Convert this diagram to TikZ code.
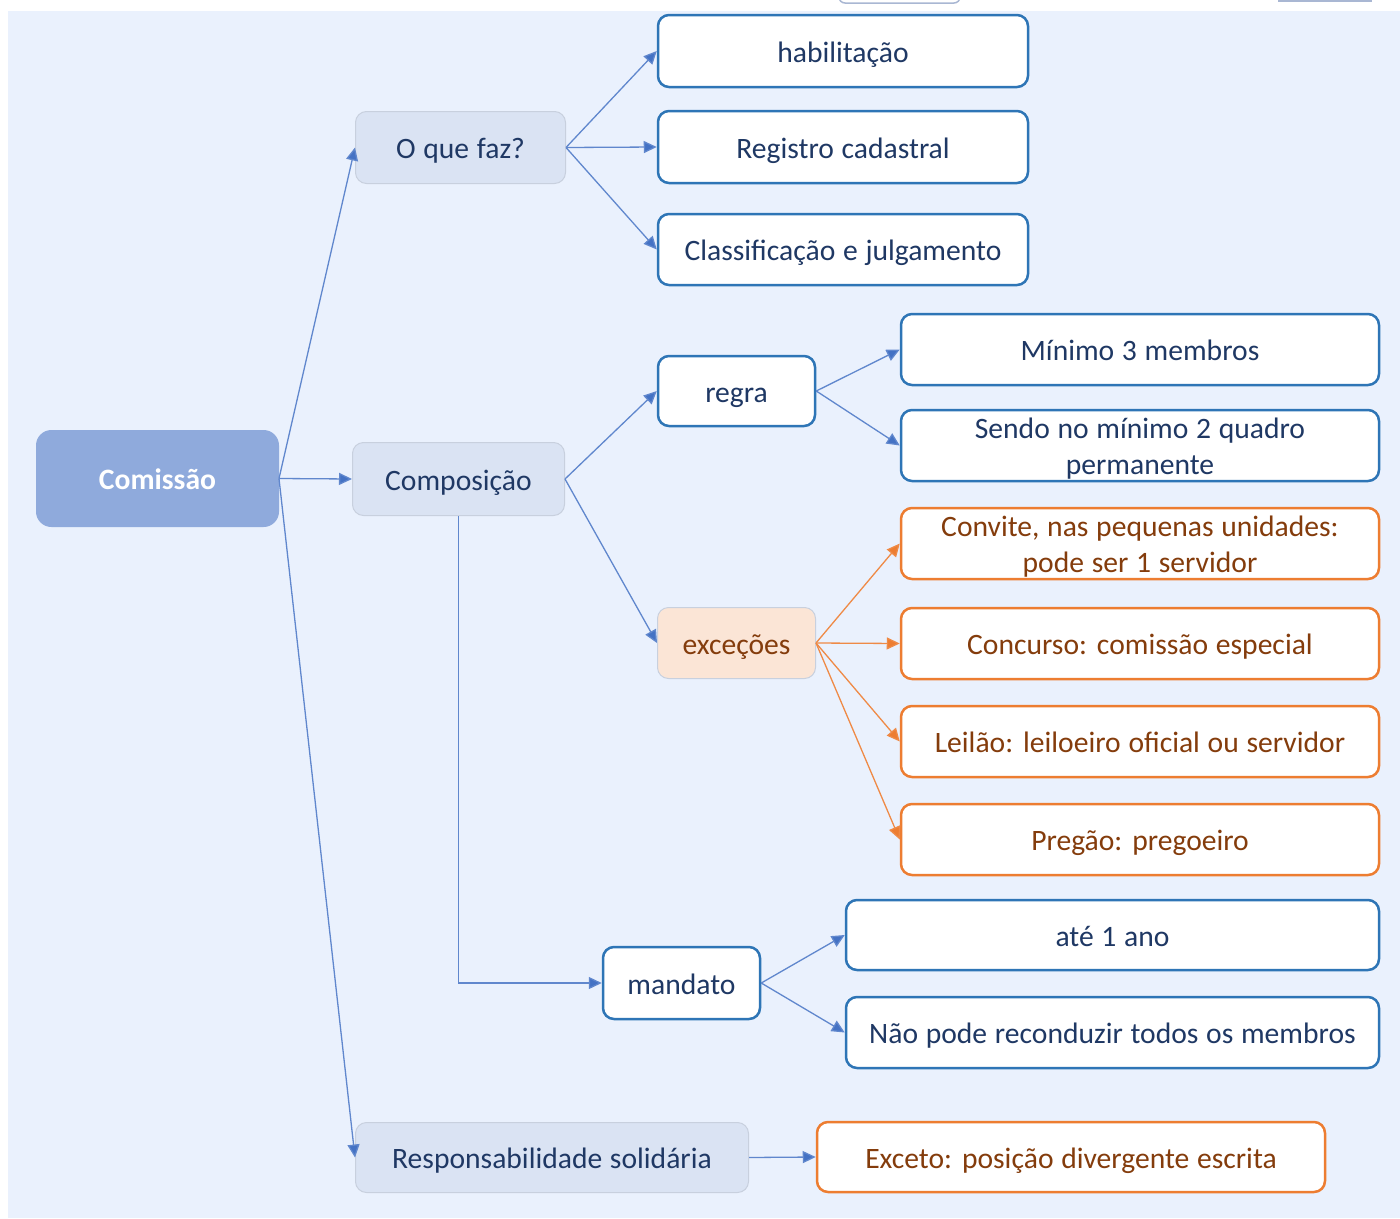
\documentclass[tikz,border=0pt]{standalone}
\usepackage{fontspec}
\setmainfont{Carlito}[WordSpace=1.15]
\usetikzlibrary{arrows.meta}
\definecolor{bgc}{HTML}{EAF1FD}
\definecolor{navy}{HTML}{1F3864}
\definecolor{brownt}{HTML}{843C0C}
\definecolor{grayf}{HTML}{DAE3F3}
\definecolor{grayd}{HTML}{C8D0DE}
\definecolor{rootf}{HTML}{8FAADC}
\definecolor{blueb}{HTML}{2E75B6}
\definecolor{orangeb}{HTML}{ED7D31}
\definecolor{peachf}{HTML}{FBE5D6}
\definecolor{linec}{HTML}{4472C4}
\definecolor{fragc}{HTML}{A9B7D3}
\newcommand{\lowertxt}[1]{\raisebox{-3pt}[\height][\depth]{#1}}
\begin{document}
\begin{tikzpicture}[x=1pt,y=-1pt,
  base/.style={rectangle, rounded corners=11pt, align=center, inner sep=0pt,
    font=\fontsize{29.6}{36}\selectfont, text=navy, text height=25pt, text depth=3pt},
  twoline/.style={text height=, text depth=},
  sz/.style 2 args={minimum width=#1, minimum height=#2},
  rootbox/.style={base, rounded corners=15pt, fill=rootf, draw=rootf, line width=1pt,
    text=white, font=\fontsize{29.6}{36}\selectfont\bfseries},
  graybox/.style={base, fill=grayf, draw=grayd, line width=1pt},
  peachbox/.style={base, fill=peachf, draw=grayd, line width=1pt, text=brownt},
  bluebox/.style={base, fill=white, draw=blueb, line width=2.5pt},
  orangebox/.style={base, fill=white, draw=orangeb, line width=2.5pt, text=brownt},
  conn/.style={draw=linec!85, line width=1.3pt, -{Triangle[length=13pt,width=12pt,fill=linec]}},
  oconn/.style={draw=orangeb!90, line width=1.3pt, -{Triangle[length=13pt,width=12pt,fill=orangeb]}}
]
\useasboundingbox (0,0) rectangle (1400,1218);
\fill[bgc] (8,11) rectangle (1400,1218);
% stray fragments at the top edge
\draw[fragc, line width=1.5pt, fill=white, rounded corners=6pt] (839,-20) rectangle (960,3);
\draw[fragc, line width=2pt] (1278,0.5) -- (1372,0.5);

% root and first level
\node[rootbox, sz={242pt}{96pt}] (com) at (157.5,478.5) {Comissão};
\node[graybox, sz={210pt}{72pt}] (oque) at (460.5,147.5) {O que faz?};
\node[graybox, sz={212pt}{73pt}] (comp) at (458.5,479) {Composição};
\node[graybox, sz={393pt}{70pt}] (resp) at (552,1157.5) {Responsabilidade solidária};

% O que faz
\node[bluebox, sz={370pt}{72pt}] (hab) at (843,51) {habilitação};
\node[bluebox, sz={370pt}{72pt}] (reg) at (843,147) {Registro cadastral};
\node[bluebox, sz={370pt}{71pt}] (cla) at (843,249.5) {Classificação e julgamento};

% Composição
\node[bluebox, sz={157pt}{70pt}] (regra) at (736.5,391) {regra};
\node[peachbox, sz={158pt}{71pt}] (exc) at (736.5,643) {exceções};
\node[bluebox, sz={157pt}{72pt}] (mand) at (681.5,983) {mandato};

\node[bluebox, sz={478pt}{71pt}] (min) at (1140,349.5) {Mínimo 3 membros};
\node[bluebox, twoline, sz={478pt}{71pt}] (sendo) at (1140,445.5) {\lowertxt{Sendo no mínimo 2 quadro}\\\lowertxt{permanente}};

\node[orangebox, twoline, sz={478pt}{71pt}] (conv) at (1140,543.5) {\lowertxt{Convite, nas pequenas unidades:}\\\lowertxt{pode ser 1 servidor}};
\node[orangebox, sz={478pt}{71pt}] (conc) at (1140,643.5) {Concurso: comissão especial};
\node[orangebox, sz={478pt}{71pt}] (leil) at (1140,741.5) {Leilão: leiloeiro oficial ou servidor};
\node[orangebox, sz={478pt}{71pt}] (preg) at (1140,839.5) {Pregão: pregoeiro};

\node[bluebox, sz={533pt}{70pt}] (ate) at (1112.5,935) {até 1 ano};
\node[bluebox, sz={533pt}{71pt}] (nao) at (1112.5,1032.5) {Não pode reconduzir todos os membros};

\node[orangebox, sz={508pt}{70pt}] (exceto) at (1071,1157) {Exceto: posição divergente escrita};

% connectors
\draw[conn] (com.east) -- (oque.west);
\draw[conn] (com.east) -- (comp.west);
\draw[conn] (com.east) -- (resp.west);

\draw[conn] (oque.east) -- (hab.west);
\draw[conn] (oque.east) -- (reg.west);
\draw[conn] (oque.east) -- (cla.west);

\draw[conn] (comp.east) -- (regra.west);
\draw[conn] (comp.east) -- (exc.west);
\draw[conn] (comp.south) |- (mand.west);

\draw[conn] (regra.east) -- (min.west);
\draw[conn] (regra.east) -- (sendo.west);

\draw[oconn] (exc.east) -- (conv.west);
\draw[oconn] (exc.east) -- (conc.west);
\draw[oconn] (exc.east) -- (leil.west);
\draw[oconn] (exc.east) -- (preg.west);

\draw[conn] (mand.east) -- (ate.west);
\draw[conn] (mand.east) -- (nao.west);

\draw[conn] (resp.east) -- (exceto.west);
\end{tikzpicture}
\end{document}
